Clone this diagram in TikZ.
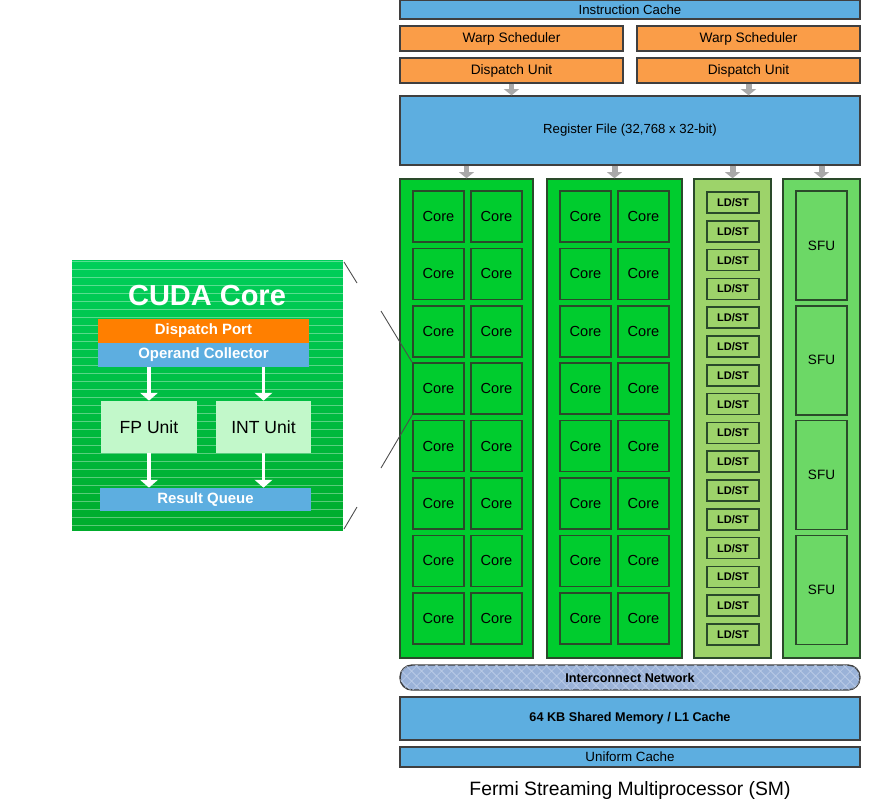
\documentclass[tikz,border=0pt]{standalone}
\usepackage{fontspec}
\setmainfont{Liberation Sans}
\usetikzlibrary{arrows.meta,patterns.meta,calc}

\definecolor{cacheblue}{HTML}{5DAEE0}
\definecolor{warporange}{HTML}{FA9D48}
\definecolor{portorange}{HTML}{FF7F00}
\definecolor{coregreen}{HTML}{00CC2E}
\definecolor{ldstgreen}{HTML}{9DD36A}
\definecolor{sfugreen}{HTML}{6CD866}
\definecolor{unitgreen}{HTML}{C2F8CA}
\definecolor{netblue}{HTML}{9AB2D8}
\definecolor{nethatch}{HTML}{BCCDE8}
\definecolor{barline}{HTML}{3F3F3F}
\definecolor{boxline}{HTML}{2A4A2A}
\definecolor{arrowgray}{HTML}{A9A9A9}
\definecolor{cudatop}{HTML}{00CF5A}
\definecolor{cudabot}{HTML}{00AC2C}

\begin{document}
\begin{tikzpicture}[x=0.02cm,y=-0.02cm,
  bar/.style={draw=barline,line width=0.8pt,fill=cacheblue,minimum width=9.2cm,inner sep=0pt,font=\fontsize{7.5}{9}\selectfont},
  sched/.style={draw=barline,line width=0.8pt,fill=warporange,minimum width=4.46cm,minimum height=0.5cm,inner sep=0pt,font=\fontsize{7.8}{9}\selectfont},
  column/.style={draw=boxline,line width=0.9pt,minimum height=9.58cm,inner sep=0pt},
  core/.style={draw=boxline,line width=0.9pt,fill=coregreen,minimum size=1.02cm,inner sep=0pt,font=\fontsize{8.3}{10}\selectfont},
  ldstbox/.style={draw=boxline,line width=0.9pt,fill=ldstgreen,minimum width=1.04cm,minimum height=0.42cm,inner sep=0pt,font=\bfseries\fontsize{6.3}{8}\selectfont},
  sfubox/.style={draw=boxline,line width=0.9pt,fill=sfugreen,minimum width=1.02cm,minimum height=2.18cm,inner sep=0pt,font=\fontsize{7.7}{9}\selectfont},
  grayarrow/.style={draw=arrowgray,line width=3.4pt,-{Triangle[width=8.5pt,length=3.5pt]}},
  whitearrow/.style={draw=white,line width=2.2pt,-{Triangle[width=10pt,length=4.5pt]}},
  unit/.style={fill=unitgreen,minimum width=1.92cm,minimum height=1.04cm,inner sep=0pt,font=\fontsize{10}{12}\selectfont},
  strip/.style={minimum width=4.22cm,inner sep=0pt,text=white,font=\bfseries\fontsize{8.5}{10}\selectfont},
  stripe/.style={draw=white,opacity=0.35,line width=0.6pt},
  zoomline/.style={draw=black!70,line width=0.5pt}]
\useasboundingbox (0,0) rectangle (874,806);

% Front end of the SM
\node[bar,minimum height=0.38cm] (ic) at (630,9.5) {Instruction Cache};
\node[sched] (ws1) at (511.5,38.5) {Warp Scheduler};
\node[sched] (ws2) at (748.5,38.5) {Warp Scheduler};
\node[sched] (du1) at (511.5,70.5) {Dispatch Unit};
\node[sched] (du2) at (748.5,70.5) {Dispatch Unit};
\node[bar,minimum height=1.38cm] (rf) at (630,130.5) {Register File (32,768 x 32-bit)};
\draw[grayarrow] (du1.south) -- (du1.south |- rf.north);
\draw[grayarrow] (du2.south) -- (du2.south |- rf.north);

% Execution columns
\node[column,fill=coregreen,minimum width=2.66cm] (col1) at (466.5,418.5) {};
\node[column,fill=coregreen,minimum width=2.7cm] (col2) at (614.5,418.5) {};
\node[column,fill=ldstgreen,minimum width=1.54cm] (ldst) at (732.5,418.5) {};
\node[column,fill=sfugreen,minimum width=1.54cm] (sfu) at (821.5,418.5) {};
\foreach \c in {col1,col2,ldst,sfu}
  \draw[grayarrow] (\c.north |- rf.south) -- (\c.north);

\foreach \r in {0,...,7} {
  \node[core] (ca\r) at (438.5,{216.5+57.4*\r}) {Core};
  \node[core] (cb\r) at (496.5,{216.5+57.4*\r}) {Core};
  \node[core] (cc\r) at (585.5,{216.5+57.4*\r}) {Core};
  \node[core] (cd\r) at (643.5,{216.5+57.4*\r}) {Core};
}
\foreach \r in {0,...,15}
  \node[ldstbox] (ls\r) at (733,{202.5+28.8*\r}) {LD/ST};
\foreach \r in {0,...,3}
  \node[sfubox] (sf\r) at (821.5,{245.5+114.8*\r}) {SFU};

% Memory side
\node[draw=barline,line width=0.8pt,fill=netblue,rounded corners=0.24cm,minimum width=9.2cm,minimum height=0.5cm,
  postaction={pattern={Hatch[angle=45,distance=4pt,line width=0.4pt]},pattern color=nethatch},
  font=\bfseries\fontsize{7.2}{9}\selectfont] (icn) at (630,677.5) {Interconnect Network};
\node[bar,minimum height=0.86cm,font=\bfseries\fontsize{7.2}{9}\selectfont] (smem) at (630,718.5) {64 KB Shared Memory / L1 Cache};
\node[bar,minimum height=0.4cm,font=\fontsize{7.6}{9}\selectfont] (uc) at (630,757) {Uniform Cache};
\node[font=\fontsize{11}{13}\selectfont] (smtitle) at (630,790) {Fermi Streaming Multiprocessor (SM)};

% CUDA core close-up
\node[top color=cudatop,bottom color=cudabot,minimum size=5.42cm,inner sep=0pt] (cuda) at (207.5,395.5) {};
\begin{scope}
  \clip (cuda.north west) rectangle (cuda.south east);
  \foreach \s in {0,...,33}
    \draw[stripe] ([yshift=-0.04cm-\s*0.16cm]cuda.north west) -- ([yshift=-0.04cm-\s*0.16cm]cuda.north east);
\end{scope}
\node[text=white,font=\bfseries\fontsize{16.5}{18}\selectfont] (cudatitle) at (207,296) {CUDA Core};
\node[strip,fill=portorange,minimum height=0.48cm] (dp) at (203.5,331) {Dispatch Port};
\node[strip,fill=cacheblue,minimum height=0.48cm] (oc) at (203.5,355) {Operand Collector};
\node[unit] (fp) at (149,427) {FP Unit};
\node[unit,minimum width=1.9cm] (intu) at (263.5,427) {INT Unit};
\node[strip,fill=cacheblue,minimum height=0.46cm] (rq) at (205.5,499.5) {Result Queue};
\draw[whitearrow] (fp.north |- oc.south) -- (fp.north);
\draw[whitearrow] (intu.north |- oc.south) -- (intu.north);
\draw[whitearrow] (fp.south) -- (fp.south |- rq.north);
\draw[whitearrow] (intu.south) -- (intu.south |- rq.north);

% zoom marks
\coordinate (bt1) at (344,262);
\coordinate (bt2) at (357,283);
\coordinate (bb1) at (344,529);
\coordinate (bb2) at (357,507);
\draw[zoomline] (bt1) -- (bt2);
\draw[zoomline] (bb1) -- (bb2);
\coordinate (zl1) at (381,311);
\coordinate (zl2) at (381,468);
\draw[zoomline] (zl1) -- (ca3.north west);
\draw[zoomline] (zl2) -- (ca3.south west);
\end{tikzpicture}
\end{document}
